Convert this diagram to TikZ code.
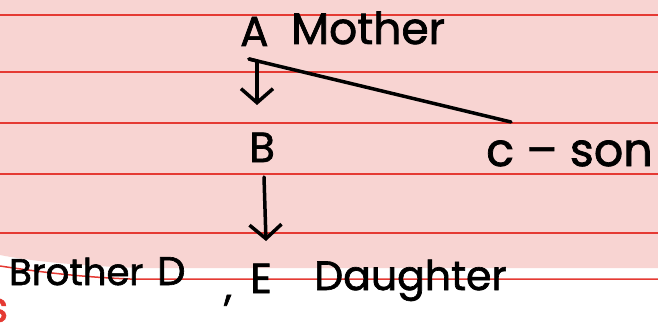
\documentclass[tikz,border=0pt]{standalone}
\usepackage{fontspec}
\setmainfont{Poppins}[FakeBold=1.6]
\usetikzlibrary{arrows.meta}
\definecolor{paper}{HTML}{F8D4D2}
\definecolor{rule}{HTML}{E53A33}
\definecolor{ink}{HTML}{000000}
\tikzset{
  hand/.style={font=\fontsize{#1}{#1}\selectfont, text=ink, inner sep=0pt, anchor=base west},
  hand/.default=44,
  ruling/.style={draw=rule, line width=1.5},
  link/.style={draw=ink, line width=3.5, line cap=round, line join=round},
  arr/.style={link, -{Straight Barb[length=14, width=32, line width=3.5]}}
}
\begin{document}
\begin{tikzpicture}[x=1pt,y=-1pt]
\useasboundingbox (0,0) rectangle (658,326);
% paper
\fill[white] (0,0) rectangle (658,326);
\fill[paper] (0,0) -- (658,0) -- (658,268) -- (140,268) .. controls (80,266) and (30,261) .. (0,255) -- cycle;
\foreach \y in {15,72,123,174,233} \draw[ruling] (0,\y) -- (658,\y);
\draw[ruling] (0,266) .. controls (40,272) and (80,277) .. (130,279) -- (658,279);
\node[hand=42, text=rule] (s) at (-14,322) {s};
% words
\node[hand=42] (A) at (240,46) {A};
\node[hand=44] (mother) at (291,44) {Mother};
\node[hand=42] (B) at (249,162) {B};
\node[hand=46] (C) at (486,166) {c – son};
\node[hand=37] (brother) at (9,285) {Brother};
\node[hand=40] (D) at (157,285) {D};
\node[hand=40] (comma) at (224,300) {,};
\node[hand=42] (E) at (250,293) {E};
\node[hand=41] (daughter) at (314,290) {Daughter};
% connectors
\coordinate (Atop) at (249,59);
\coordinate (Aleft) at (257,61);
\coordinate (Bhead) at (257,105);
\coordinate (Cend) at (511,122);
\coordinate (Bbot) at (264,177);
\coordinate (Ehead) at (266,241);
\draw[link] (Atop) -- (Cend);
\draw[link] (Atop) -- (Aleft);
\draw[arr] (Aleft) -- (Bhead);
\draw[arr] (Bbot) -- (Ehead);
\end{tikzpicture}
\end{document}
